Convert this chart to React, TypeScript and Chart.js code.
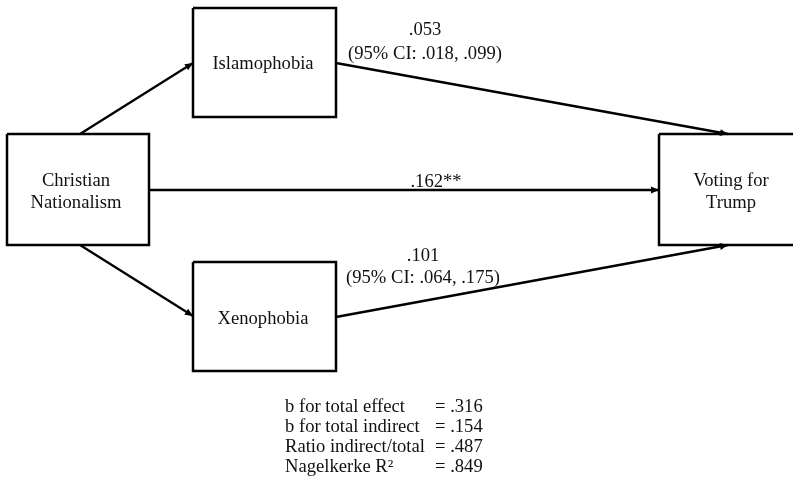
import { useEffect, useRef } from "react";
import { Chart, registerables } from "chart.js";

Chart.register(...registerables);

// ---- data ----
const nodeLabels: string[][] = [
  ["Christian", "Nationalism"],
  ["Islamophobia"],
  ["Xenophobia"],
  ["Voting for", "Trump"],
];
const pathEstimates = [".053", ".101", ".162**"];
const pathIntervals = ["(95% CI: .018, .099)", "(95% CI: .064, .175)", ""];
const summaryLabels = [
  "b for total effect",
  "b for total indirect",
  "Ratio indirect/total",
  "Nagelkerke R\u00B2",
];
const summaryValues = ["= .316", "= .154", "= .487", "= .849"];

// ---- layout (diagram units on the hidden linear scales) ----
const boxes = [
  { x0: 7, y0: 134, x1: 149, y1: 245, tx: 76, ty: 192 },
  { x0: 193, y0: 8, x1: 336, y1: 117, tx: 263, ty: 64 },
  { x0: 193, y0: 262, x1: 336, y1: 371, tx: 263, ty: 319 },
  { x0: 659, y0: 134, x1: 805, y1: 245, tx: 731, ty: 192 },
];
const edges = [
  { from: { x: 80, y: 134 }, to: { x: 193, y: 63 } },
  { from: { x: 80, y: 245 }, to: { x: 193, y: 316 } },
  { from: { x: 149, y: 190 }, to: { x: 659, y: 190 } },
  { from: { x: 336, y: 63 }, to: { x: 728, y: 134 } },
  { from: { x: 336, y: 317 }, to: { x: 728, y: 245 } },
];
const estimatePos = [
  { x: 425, y: 30, cy: 54 },
  { x: 423, y: 256, cy: 278 },
  { x: 436, y: 182, cy: 0 },
];
const summaryX = 285;
const summaryValueX = 435;
const summaryY = [412, 432, 452, 472];

const FONT = "18.6px 'Liberation Serif', 'Times New Roman', serif";

const diagramPlugin = {
  id: "diagram",
  afterDatasetsDraw(chart: any) {
    const { ctx } = chart;
    const xs = chart.scales.x;
    const ys = chart.scales.y;
    const px = (v: number) => xs.getPixelForValue(v);
    const py = (v: number) => ys.getPixelForValue(v);
    ctx.save();
    // arrowheads
    ctx.fillStyle = "#000";
    edges.forEach((e) => {
      const x1 = px(e.from.x), y1 = py(e.from.y);
      const x2 = px(e.to.x), y2 = py(e.to.y);
      const a = Math.atan2(y2 - y1, x2 - x1);
      const L = 8, W = 3.5;
      ctx.beginPath();
      ctx.moveTo(x2, y2);
      ctx.lineTo(x2 - L * Math.cos(a) + W * Math.sin(a), y2 - L * Math.sin(a) - W * Math.cos(a));
      ctx.lineTo(x2 - L * Math.cos(a) - W * Math.sin(a), y2 - L * Math.sin(a) + W * Math.cos(a));
      ctx.closePath();
      ctx.fill();
    });
    // node labels
    ctx.font = FONT;
    ctx.fillStyle = "#111";
    ctx.textAlign = "center";
    ctx.textBaseline = "middle";
    boxes.forEach((b, i) => {
      const lines = nodeLabels[i];
      const lh = 22;
      lines.forEach((t, j) => {
        const off = (j - (lines.length - 1) / 2) * lh;
        ctx.fillText(t, px(b.tx), py(b.ty) + off);
      });
    });
    // path estimates
    pathEstimates.forEach((t, i) => {
      const p = estimatePos[i];
      ctx.fillText(t, px(p.x), py(p.y));
      if (pathIntervals[i]) ctx.fillText(pathIntervals[i], px(p.x), py(p.cy));
    });
    // summary
    ctx.textAlign = "left";
    ctx.textBaseline = "alphabetic";
    summaryLabels.forEach((t, i) => {
      ctx.fillText(t, px(summaryX), py(summaryY[i]));
      ctx.fillText(summaryValues[i], px(summaryValueX), py(summaryY[i]));
    });
    ctx.restore();
  },
};

export default function App() {
  const ref = useRef<HTMLCanvasElement | null>(null);
  useEffect(() => {
    if (!ref.current) return;
    const datasets: any[] = [];
    boxes.forEach((b) => {
      datasets.push({
        data: [
          { x: b.x0, y: b.y0 },
          { x: b.x1, y: b.y0 },
          { x: b.x1, y: b.y1 },
          { x: b.x0, y: b.y1 },
          { x: b.x0, y: b.y0 },
        ],
        showLine: true,
        borderColor: "#000",
        borderWidth: 2.5,
        borderJoinStyle: "miter",
        pointRadius: 0,
        fill: false,
        clip: false,
      });
    });
    edges.forEach((e) => {
      datasets.push({
        data: [e.from, e.to],
        showLine: true,
        borderColor: "#000",
        borderWidth: 2.3,
        pointRadius: 0,
        fill: false,
        clip: false,
      });
    });
    const chart = new Chart(ref.current, {
      type: "scatter",
      data: { datasets },
      options: {
        animation: false,
        responsive: false,
        layout: { padding: 0 },
        plugins: { legend: { display: false }, tooltip: { enabled: false } },
        scales: {
          x: { type: "linear", min: 0, max: 793, display: false },
          y: { type: "linear", min: 0, max: 485, reverse: true, display: false },
        },
      },
      plugins: [diagramPlugin],
    });
    return () => chart.destroy();
  }, []);
  return (
    <div style={{ position: "fixed", left: 0, top: 0, width: 793, height: 485, background: "#fff" }}>
      <canvas ref={ref} width={793} height={485} />
    </div>
  );
}
